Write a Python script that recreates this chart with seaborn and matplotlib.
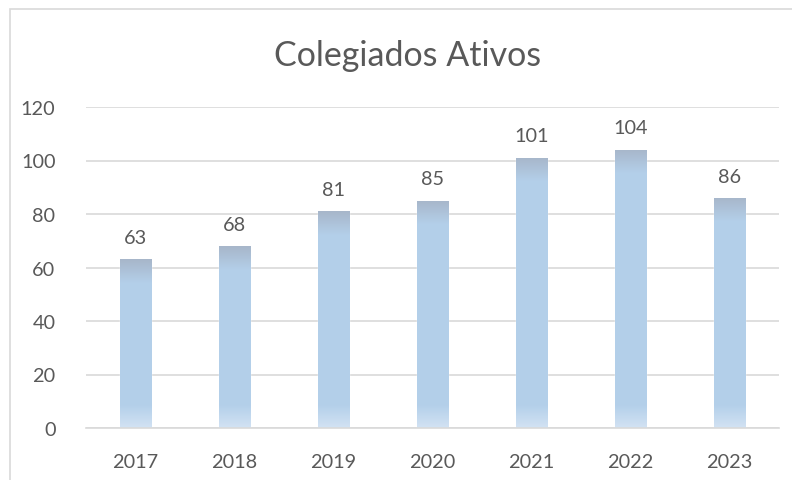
import numpy as np
import pandas as pd
import matplotlib
matplotlib.use("Agg")
import matplotlib.pyplot as plt
from matplotlib.colors import LinearSegmentedColormap
from matplotlib.patches import Rectangle
import seaborn as sns

# -------------------------------
# Data
# -------------------------------
years = ["2017", "2018", "2019", "2020", "2021", "2022", "2023"]
ativos = [63, 68, 81, 85, 101, 104, 86]
y_ticks = [0, 20, 40, 60, 80, 100, 120]

TEXT = "#595959"
GRID = "#d9d9d9"

sns.set_theme(style="white")
plt.rcParams["font.family"] = ["Lato", "DejaVu Sans"]

df = pd.DataFrame({"ano": years, "ativos": ativos})

fig = plt.figure(figsize=(7.92, 4.81), dpi=100)
ax = fig.add_axes([86 / 792, 52 / 481, 693 / 792, 321 / 481])

sns.barplot(data=df, x="ano", y="ativos", color="#b4d0ea", width=0.32,
            saturation=1, ax=ax, zorder=2)

ax.set_xlim(-0.5, 6.5)
ax.set_ylim(0, 120)
ax.set_yticks(y_ticks)
ax.grid(axis="y", color=GRID, linewidth=1.2, zorder=0)
ax.set_axisbelow(True)
for s in ["top", "right", "left"]:
    ax.spines[s].set_visible(False)
ax.spines["bottom"].set_color(GRID)
ax.spines["bottom"].set_linewidth(1.2)
ax.set_xlabel("")
ax.set_ylabel("")
ax.tick_params(axis="both", length=0, labelsize=14.3, colors=TEXT)
ax.tick_params(axis="x", pad=18)
ax.tick_params(axis="y", pad=22)

# gradient fill: greyish top, light blue body, paler bottom
px_per_unit = 321 / 120
cmap = LinearSegmentedColormap.from_list(
    "bar", [(0.0, "#d2e2f3"), (0.5, "#b4d0ea"), (1.0, "#a7b6ca")])
for patch, val in zip(ax.patches, ativos):
    x0 = patch.get_x()
    w = patch.get_width()
    h_px = val * px_per_unit
    rows = int(h_px)
    pos = np.arange(rows) / max(rows - 1, 1) * h_px  # pixel from bottom
    t = np.full(rows, 0.5)
    bot = pos < 22
    t[bot] = 0.5 * pos[bot] / 22
    top = pos > h_px - 24
    t[top] = 0.5 + 0.5 * (pos[top] - (h_px - 24)) / 24
    img = t[::-1].reshape(-1, 1)
    im = ax.imshow(img, cmap=cmap, vmin=0, vmax=1, aspect="auto",
                   extent=[x0, x0 + w, 0, val], zorder=2.5,
                   interpolation="bilinear")
    im.set_clip_path(patch)
    ax.text(x0 + w / 2, val + 5, str(val), ha="center", va="bottom",
            fontsize=14.3, color=TEXT, zorder=3)
ax.set_xlim(-0.5, 6.5)
ax.set_ylim(0, 120)

fig.text(408 / 792, 1 - 56 / 481, "Colegiados Ativos", ha="center", va="center",
         fontsize=24.5, color=TEXT)

# chart frame
fig.patches.append(Rectangle((10 / 792, -0.1), 1.2, 1 - 10 / 481 + 0.1,
                             transform=fig.transFigure, fill=False,
                             edgecolor=GRID, linewidth=1.2))

fig.savefig("out.png", dpi=100)
